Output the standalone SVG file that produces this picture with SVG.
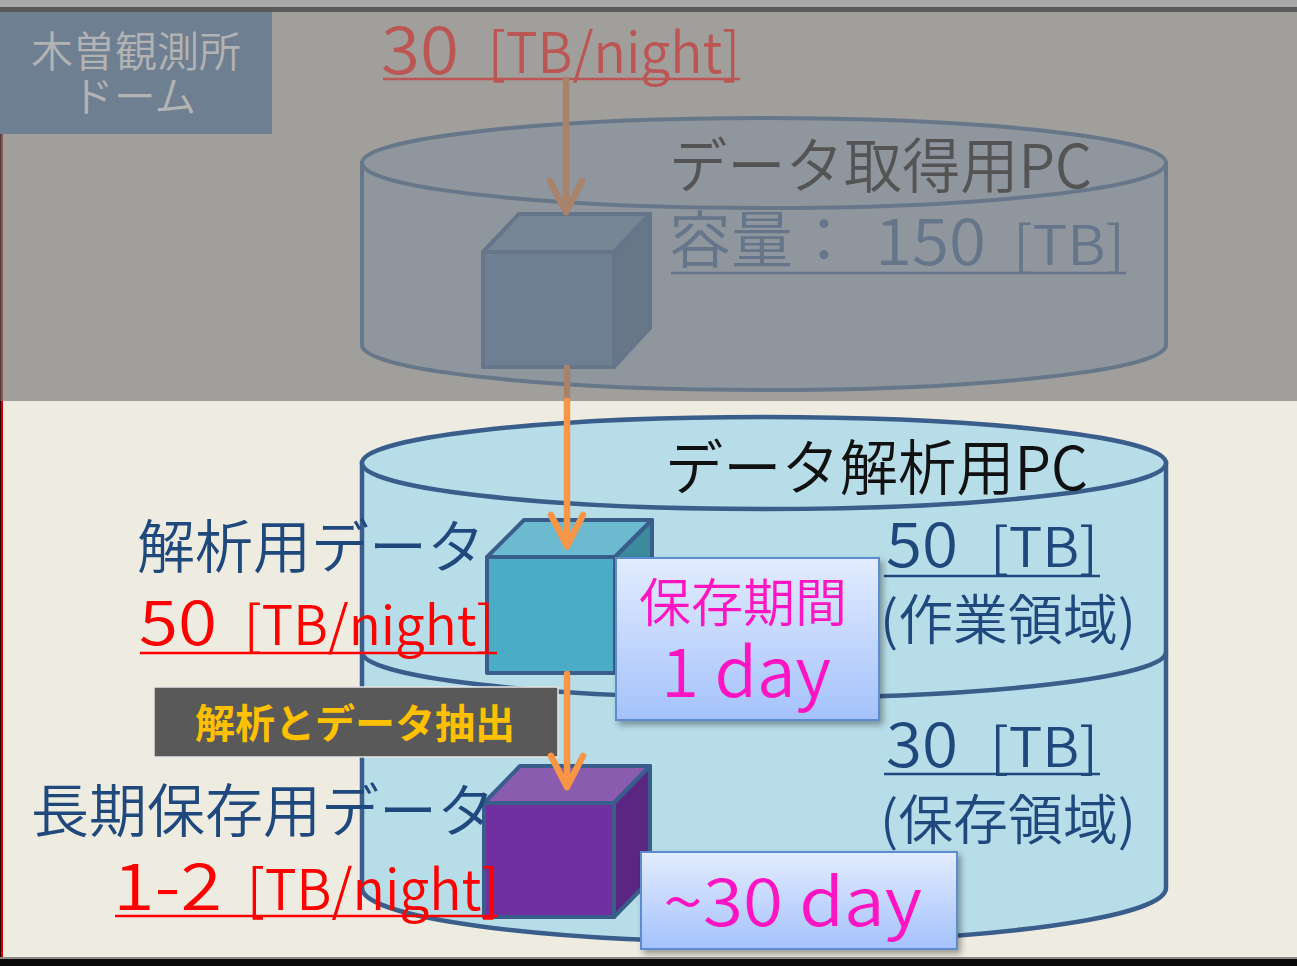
<svg xmlns="http://www.w3.org/2000/svg" width="1297" height="966" viewBox="0 0 1297 966">
  <defs>
    <style>
      text { font-family: "Noto Sans CJK JP", "Noto Sans", sans-serif; font-weight: 350; }
      .cyl-top { fill: #8f969e; stroke: #67778a; stroke-width: 4; }
      .cyl-bot { fill: #b7dde8; stroke: #3a5e8b; stroke-width: 4.5; }
      .edge { fill: none; stroke: #3a5e8b; stroke-width: 4.5; }
      .navy { fill: #1f497d; }
      .red { fill: #ff0000; }
      .pink { fill: #ff14c4; }
      .ul-red { stroke: #ff0000; stroke-width: 2.5; }
      .ul-navy { stroke: #1f497d; stroke-width: 2.5; }
      .arrow { fill: none; stroke: #f79646; stroke-width: 6.5; stroke-linecap: round; stroke-linejoin: round; }
      .arrow-dim { fill: none; stroke: #a8836a; stroke-width: 6.5; stroke-linecap: round; stroke-linejoin: round; }
      .note { fill: url(#noteFill); stroke: #5b8bd0; stroke-width: 2; filter: url(#shadow); }
    </style>
    <linearGradient id="noteFill" x1="0" y1="0" x2="0" y2="1">
      <stop offset="0" stop-color="#e3ecff"/>
      <stop offset="1" stop-color="#a4c2fa"/>
    </linearGradient>
    <filter id="shadow" x="-10%" y="-10%" width="125%" height="130%">
      <feDropShadow dx="3" dy="4" stdDeviation="3" flood-color="#000" flood-opacity="0.35"/>
    </filter>
  </defs>

  <!-- backgrounds -->
  <rect x="0" y="0" width="1297" height="966" fill="#eeebe0"/>
  <rect x="0" y="0" width="1297" height="401" fill="#a19f9b"/>
  <rect x="0" y="0" width="1297" height="7" fill="#a9a9a9"/>
  <rect x="0" y="7" width="1297" height="5" fill="#595959"/>
  <rect x="0" y="12" width="1" height="389" fill="#4a3a3a"/>
  <rect x="1" y="12" width="2" height="389" fill="#8a5654"/>
  <rect x="0" y="401" width="1" height="557" fill="#300000"/>
  <rect x="1" y="401" width="2" height="557" fill="#d00000"/>
  <rect x="0" y="957" width="1297" height="2" fill="#8a8a8a"/>
  <rect x="0" y="959" width="1297" height="7" fill="#0a0a0a"/>

  <!-- observatory dome label -->
  <g id="dome">
    <rect x="0" y="12" width="272" height="122" fill="#6e7f92"/>
    <text x="136" y="67" font-size="42" fill="#b3b3b3" text-anchor="middle">木曽観測所</text>
    <text x="134" y="112" font-size="42" fill="#b3b3b3" text-anchor="middle">ドーム</text>
  </g>

  <!-- acquisition PC -->
  <g id="acq-pc">
    <path class="cyl-top" d="M362,163 V345 A402,45 0 0 0 1166,345 V163 Z"/>
    <ellipse class="cyl-top" cx="764" cy="163" rx="402" ry="45"/>
    <text x="669" y="188" font-size="60" fill="#545454" textLength="423" lengthAdjust="spacingAndGlyphs">データ取得用PC</text>
    <text x="669" y="263" font-size="62" fill="#65758a">容量：</text>
    <text x="875" y="265" font-size="64" fill="#65758a" textLength="111" lengthAdjust="spacingAndGlyphs">150</text>
    <text x="1013" y="265" font-size="54" fill="#65758a" textLength="112" lengthAdjust="spacingAndGlyphs">[TB]</text>
    <line x1="671" y1="273" x2="1126" y2="273" stroke="#65758a" stroke-width="2.5"/>
  </g>

  <g id="acq-cube" stroke="#66768a" stroke-width="4" stroke-linejoin="round">
    <polygon points="483,252 519,214 650,214 614,252" fill="#778594"/>
    <polygon points="614,252 650,214 650,328 614,367" fill="#687787"/>
    <rect x="483" y="252" width="131" height="115" fill="#6e7f92"/>
  </g>

  <!-- analysis PC -->
  <g id="ana-pc">
    <path class="cyl-bot" d="M362,463 V888 A402,54 0 0 0 1166,888 V463 Z"/>
    <ellipse class="cyl-bot" cx="764" cy="463" rx="402" ry="46"/>
    <path class="edge" d="M362,652 A402,46 0 0 0 1166,652"/>
    <text x="665" y="490" font-size="60" fill="#111" textLength="423" lengthAdjust="spacingAndGlyphs">データ解析用PC</text>
  </g>

  <g id="work-cube" stroke="#3a5e8b" stroke-width="4" stroke-linejoin="round">
    <polygon points="487,557 524,520 652,520 615,557" fill="#6cbad0"/>
    <polygon points="615,557 652,520 652,636 615,673" fill="#3b8a9e"/>
    <rect x="487" y="557" width="128" height="116" fill="#4bacc6"/>
  </g>

  <g id="store-cube" stroke="#3a5e8b" stroke-width="4" stroke-linejoin="round">
    <polygon points="484,803 520,766 650,766 614,803" fill="#8a5cb0"/>
    <polygon points="614,803 650,766 650,880 614,917" fill="#5a2682"/>
    <rect x="484" y="803" width="130" height="114" fill="#7030a0"/>
  </g>

  <!-- capacity labels -->
  <g id="work-area">
    <text class="navy" x="886" y="567" font-size="62" textLength="72" lengthAdjust="spacingAndGlyphs">50</text>
    <text class="navy" x="990" y="567" font-size="54" textLength="108" lengthAdjust="spacingAndGlyphs">[TB]</text>
    <line class="ul-navy" x1="884" y1="576" x2="1100" y2="576"/>
    <text class="navy" x="880" y="640" font-size="54" textLength="256" lengthAdjust="spacingAndGlyphs">(作業領域)</text>
  </g>
  <g id="store-area">
    <text class="navy" x="886" y="767" font-size="62" textLength="72" lengthAdjust="spacingAndGlyphs">30</text>
    <text class="navy" x="990" y="767" font-size="54" textLength="108" lengthAdjust="spacingAndGlyphs">[TB]</text>
    <line class="ul-navy" x1="884" y1="774" x2="1100" y2="774"/>
    <text class="navy" x="880" y="840" font-size="54" textLength="256" lengthAdjust="spacingAndGlyphs">(保存領域)</text>
  </g>

  <!-- data labels -->
  <g id="raw-rate">
    <text x="381" y="74" font-size="66" fill="#bc5654" textLength="78" lengthAdjust="spacingAndGlyphs">30</text>
    <text x="488" y="73" font-size="56" fill="#bc5654" textLength="252" lengthAdjust="spacingAndGlyphs">[TB/night]</text>
    <line x1="383" y1="79" x2="740" y2="79" stroke="#bc5654" stroke-width="2.5"/>
  </g>

  <g id="ana-data">
    <text class="navy" x="137" y="568" font-size="58">解析用データ</text>
    <text class="red" x="139" y="645" font-size="62" textLength="78" lengthAdjust="spacingAndGlyphs">50</text>
    <text class="red" x="244" y="645" font-size="54" textLength="250" lengthAdjust="spacingAndGlyphs">[TB/night]</text>
    <line class="ul-red" x1="140" y1="653" x2="497" y2="653"/>
  </g>

  <g id="long-data">
    <text class="navy" x="31" y="832" font-size="58">長期保存用データ</text>
    <text class="red" x="113" y="910" font-size="64" textLength="109" lengthAdjust="spacingAndGlyphs">1-2</text>
    <text class="red" x="247" y="910" font-size="56" textLength="252" lengthAdjust="spacingAndGlyphs">[TB/night]</text>
    <line class="ul-red" x1="115" y1="916" x2="498" y2="916"/>
  </g>

  <g id="extract">
    <rect x="154" y="687" width="404" height="70" fill="#595959" stroke="#e6e6e6" stroke-width="1.5"/>
    <text x="355" y="738" font-size="40" fill="#ffc000" text-anchor="middle" style="font-weight:bold">解析とデータ抽出</text>
  </g>

  <!-- retention notes -->
  <g id="keep-1day">
    <rect class="note" x="616" y="558" width="263" height="162"/>
    <text class="pink" x="743" y="622" font-size="52" text-anchor="middle">保存期間</text>
    <text class="pink" x="746" y="697" font-size="68" text-anchor="middle" textLength="170" lengthAdjust="spacingAndGlyphs">1 day</text>
  </g>
  <g id="keep-30day">
    <rect class="note" x="641" y="852" width="316" height="97"/>
    <text class="pink" x="663" y="926" font-size="66" textLength="259" lengthAdjust="spacingAndGlyphs">~30 day</text>
  </g>

  <!-- data flow -->
  <g id="connectors">
    <path class="arrow-dim" d="M566,80 V212 M550,181 L566,212 L582,181"/>
    <path class="arrow-dim" d="M567,368 V401"/>
    <path class="arrow" d="M567,401 V546 M551,515 L567,546 L583,515"/>
    <path class="arrow" d="M567,674 V787 M551,756 L567,787 L583,756"/>
  </g>
</svg>
